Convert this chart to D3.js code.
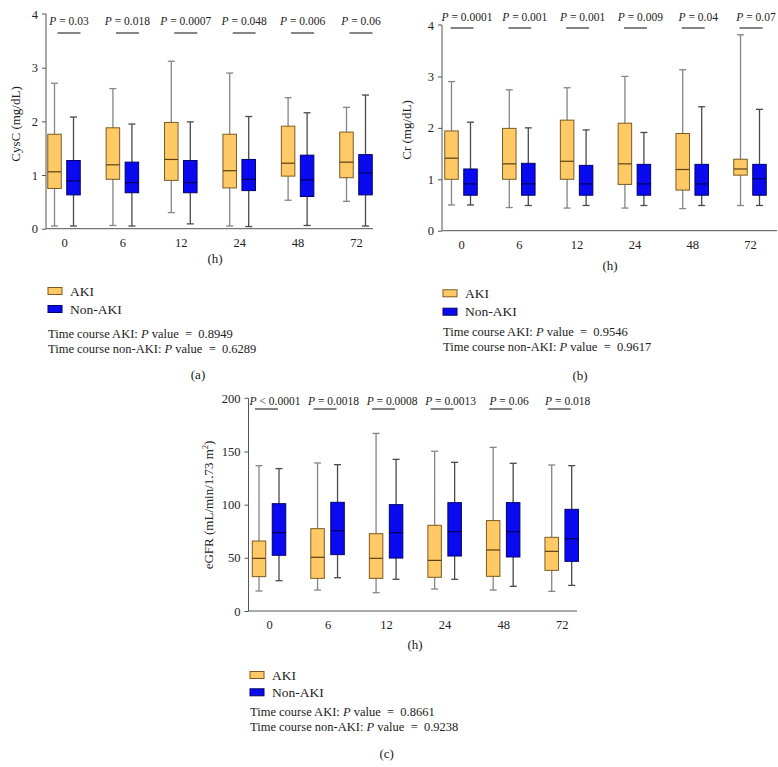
<!DOCTYPE html>
<html><head><meta charset="utf-8">
<script src="https://cdn.jsdelivr.net/npm/d3@7"></script>
<style>
body{margin:0;background:#fff;}
svg{display:block;}
svg text{font-family:"Liberation Serif","Times New Roman",serif;}
</style></head>
<body><svg id="c" width="778" height="767"></svg>
<script>
// ---------- DATA ----------
const hours = ["0","6","12","24","48","72"];
const seriesNames = ["AKI","Non-AKI"];
// each entry: [min, q1, median, q3, max]
const cysAKI = [[0.05,0.75,1.06,1.76,2.71],[0.06,0.92,1.19,1.88,2.61],[0.30,0.90,1.29,1.98,3.12],[0.05,0.76,1.08,1.76,2.90],[0.53,0.98,1.22,1.91,2.44],[0.51,0.95,1.24,1.80,2.26]];
const cysNon = [[0.05,0.63,0.89,1.27,2.08],[0.05,0.67,0.86,1.24,1.95],[0.09,0.67,0.86,1.27,1.99],[0.04,0.71,0.92,1.29,2.09],[0.06,0.60,0.91,1.37,2.16],[0.05,0.63,1.04,1.38,2.49]];
const cysP = ["= 0.03","= 0.018","= 0.0007","= 0.048","= 0.006","= 0.06"];
const cysTicks = [0,1,2,3,4];

const crAKI = [[0.50,1.00,1.41,1.94,2.90],[0.45,1.00,1.30,1.99,2.74],[0.44,1.00,1.35,2.15,2.78],[0.44,0.90,1.30,2.09,3.00],[0.43,0.79,1.19,1.89,3.13],[0.49,1.08,1.20,1.39,3.81]];
const crNon = [[0.50,0.69,0.91,1.20,2.11],[0.49,0.69,0.91,1.31,2.00],[0.49,0.69,0.91,1.27,1.96],[0.49,0.69,0.91,1.29,1.91],[0.49,0.69,0.91,1.29,2.41],[0.49,0.69,1.01,1.29,2.36]];
const crP = ["= 0.0001","= 0.001","= 0.001","= 0.009","= 0.04","= 0.07"];
const crTicks = [0,1,2,3,4];

const egfrAKI = [[18.8,32.3,49.5,65.8,136.7],[19.7,30.7,50.5,77.4,139.2],[17.2,30.7,49.5,72.7,167],[20.7,31.7,47.6,80.6,150.2],[19.7,32.6,57.4,85,153.9],[18.5,38.2,56.1,69.3,137.3]];
const egfrNon = [[28.5,52.4,73.7,100.9,133.9],[31.3,53.0,75.5,102.2,137.6],[29.8,49.8,73.7,100,142.6],[29.8,51.7,74.6,101.9,139.8],[23.2,50.8,74.6,101.9,138.9],[24.1,46.7,68,95.6,136.7]];
const egfrP = ["< 0.0001","= 0.0018","= 0.0008","= 0.0013","= 0.06","= 0.018"];
const egfrTicks = [0,50,100,150,200];

const timeCourseA = ["0.8949","0.6289"];
const timeCourseB = ["0.9546","0.9617"];
const timeCourseC = ["0.8661","0.9238"];

// ---------- STYLE ----------
const FONT = "'Liberation Serif','Times New Roman',serif";
const COL = {
  akiFill:"#FFCA66", akiStroke:"#7a5a22", akiMed:"#5a3f10", akiWhisk:"#858585",
  nonFill:"#0A0AF0", nonStroke:"#00006a", nonMed:"#00005a", nonWhisk:"#4a4a4a",
  axis:"#555", text:"#222"
};
const svg = d3.select("#c").attr("font-family",FONT);

function panel(cfg){
  const g = svg.append("g");
  const y = d3.scaleLinear().domain([0, cfg.max]).range([cfg.y0, cfg.yTop]);
  const x = d3.scalePoint().domain(hours).range(cfg.xr);
  const bw = 13.5, off = cfg.off, cap = 7;

  // y axis
  const ya = g.append("g").attr("transform",`translate(${cfg.ax},0)`)
    .call(d3.axisLeft(y).tickValues(cfg.ticks).tickFormat(d3.format("d")).tickSize(4).tickPadding(4));
  ya.attr("font-family",FONT);
  ya.select(".domain").attr("stroke",COL.axis).attr("d",`M-4,${y(cfg.max)}H0V${cfg.y0}`);
  ya.selectAll(".tick line").attr("stroke",COL.axis);
  ya.selectAll(".tick text").attr("font-size",12.5).attr("fill",COL.text);
  ya.selectAll(".tick").filter(d=>d===cfg.max).select("line").remove();
  // x axis
  const xa = g.append("g").attr("transform",`translate(0,${cfg.y0})`)
    .call(d3.axisBottom(x).tickSize(0).tickPadding(9));
  xa.attr("font-family",FONT);
  xa.select(".domain").attr("stroke",COL.axis).attr("d",`M${cfg.ax},0H${cfg.xEnd}`);
  xa.selectAll(".tick text").attr("font-size",12.5).attr("fill",COL.text);

  const series = [
    {vals:cfg.aki, dx:-off, fill:COL.akiFill, stroke:COL.akiStroke, med:COL.akiMed, wh:COL.akiWhisk},
    {vals:cfg.non, dx:off, fill:COL.nonFill, stroke:COL.nonStroke, med:COL.nonMed, wh:COL.nonWhisk}
  ];
  series.forEach(s=>{
    const gg = g.append("g");
    const items = gg.selectAll("g.b").data(s.vals.map((v,i)=>({h:hours[i],v}))).join("g")
      .attr("transform",d=>`translate(${x(d.h)+s.dx},0)`);
    items.append("line").attr("x1",0).attr("x2",0).attr("y1",d=>y(d.v[0])).attr("y2",d=>y(d.v[4]))
      .attr("stroke",s.wh).attr("stroke-width",1.3);
    items.append("line").attr("x1",-cap/2).attr("x2",cap/2).attr("y1",d=>y(d.v[4])).attr("y2",d=>y(d.v[4]))
      .attr("stroke",s.wh).attr("stroke-width",1.3);
    items.append("line").attr("x1",-cap/2).attr("x2",cap/2).attr("y1",d=>y(d.v[0])).attr("y2",d=>y(d.v[0]))
      .attr("stroke",s.wh).attr("stroke-width",1.3);
    items.append("rect").attr("x",-bw/2).attr("width",bw)
      .attr("y",d=>y(d.v[3])).attr("height",d=>y(d.v[1])-y(d.v[3]))
      .attr("fill",s.fill).attr("stroke",s.stroke).attr("stroke-width",1);
    items.append("line").attr("x1",-bw/2).attr("x2",bw/2).attr("y1",d=>y(d.v[2])).attr("y2",d=>y(d.v[2]))
      .attr("stroke",s.med).attr("stroke-width",1.2);
  });

  // P annotations
  const pa = g.append("g").selectAll("g").data(cfg.p.map((p,i)=>({h:hours[i],p}))).join("g");
  pa.append("line").attr("x1",d=>x(d.h)+cfg.lineShift-11.5).attr("x2",d=>x(d.h)+cfg.lineShift+11.5)
    .attr("y1",cfg.pLine).attr("y2",cfg.pLine).attr("stroke","#333").attr("stroke-width",1.2);
  const pt = pa.append("text").attr("x",d=>x(d.h)+cfg.textShift).attr("y",cfg.pText)
    .attr("text-anchor","middle").attr("font-size",11.5).attr("fill",COL.text).attr("xml:space","preserve");
  pt.append("tspan").attr("font-style","italic").text("P");
  pt.append("tspan").text(d=>" "+d.p);

  // y label
  const yl = g.append("text").attr("transform",`translate(${cfg.ylx},${cfg.yly}) rotate(-90)`)
    .attr("text-anchor","middle").attr("font-size",13).attr("fill",COL.text);
  if(cfg.ylabelSup){
    yl.append("tspan").text(cfg.ylabel);
    yl.append("tspan").attr("font-size",8).attr("dy",-5).text("2");
    yl.append("tspan").attr("dy",5).text(")");
  } else yl.text(cfg.ylabel);

  // x label
  g.append("text").attr("x",cfg.hx).attr("y",cfg.hy).attr("text-anchor","middle")
    .attr("font-size",13).attr("fill",COL.text).attr("dominant-baseline","central").text("(h)");

  // legend
  const lg = g.append("g");
  const legItems = [{n:seriesNames[0],f:COL.akiFill,s:COL.akiStroke,y:cfg.lgY[0]},{n:seriesNames[1],f:COL.nonFill,s:COL.nonStroke,y:cfg.lgY[1]}];
  legItems.forEach(it=>{
    lg.append("rect").attr("x",cfg.lgX).attr("y",it.y-3.5).attr("width",14).attr("height",7)
      .attr("fill",it.f).attr("stroke",it.s).attr("stroke-width",1);
    lg.append("text").attr("x",cfg.lgX+22).attr("y",it.y).attr("dominant-baseline","central")
      .attr("font-size",13.5).attr("fill",COL.text).text(it.n);
  });
  ["AKI","non-AKI"].forEach((nm,i)=>{
    const t = lg.append("text").attr("x",cfg.lgX).attr("y",cfg.tcY[i]).attr("dominant-baseline","central")
      .attr("font-size",12.5).attr("fill",COL.text).attr("xml:space","preserve");
    t.append("tspan").text(`Time course ${nm}: `);
    t.append("tspan").attr("font-style","italic").text("P");
    t.append("tspan").text(` value  =  ${cfg.tc[i]}`);
  });
  g.append("text").attr("x",cfg.capX).attr("y",cfg.capY).attr("text-anchor","middle")
    .attr("dominant-baseline","central").attr("font-size",13).attr("fill",COL.text).text(cfg.cap);
}

panel({aki:cysAKI, non:cysNon, p:cysP, ticks:cysTicks, max:4, y0:228.7, yTop:14, ax:46, xEnd:373,
  xr:[64,356], off:9.5, lineShift:5, textShift:5, pLine:33, pText:25,
  ylabel:"CysC (mg/dL)", ylx:20, yly:124, hx:215, hy:258,
  lgX:48, lgY:[291,309], tcY:[333.5,348.5], tc:timeCourseA, cap:"(a)", capX:198, capY:374});

panel({aki:crAKI, non:crNon, p:crP, ticks:crTicks, max:4, y0:230.7, yTop:25, ax:442, xEnd:777,
  xr:[461,750], off:9.5, lineShift:1, textShift:6, pLine:28, pText:21,
  ylabel:"Cr (mg/dL)", ylx:411, yly:130, hx:610, hy:265,
  lgX:443, lgY:[293.3,311.7], tcY:[331.7,346.7], tc:timeCourseB, cap:"(b)", capX:580, capY:375});

panel({aki:egfrAKI, non:egfrNon, p:egfrP, ticks:egfrTicks, max:200, y0:611, yTop:398.3, ax:248.5, xEnd:577,
  xr:[269,561.7], off:10, lineShift:-2.5, textShift:6, pLine:409, pText:404.5,
  ylabel:"eGFR (mL/min/1.73 m", ylabelSup:true, ylx:213, yly:505, hx:415, hy:644,
  lgX:250, lgY:[675,692.3], tcY:[711.7,727.3], tc:timeCourseC, cap:"(c)", capX:386.7, capY:753.3});
</script></body></html>
